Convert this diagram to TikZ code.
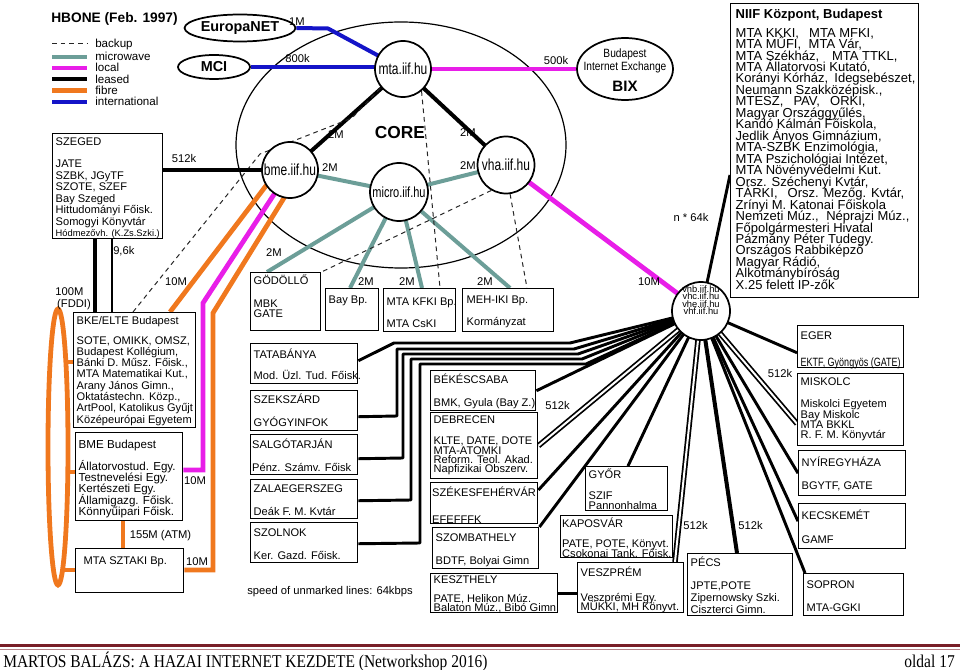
\documentclass[tikz,border=0pt]{standalone}
\usepackage{fontspec}
\setmainfont{Liberation Sans}
\newfontfamily\condf[FakeStretch=0.75]{Liberation Sans}
\newfontfamily\condg[FakeStretch=0.85]{Liberation Sans}
\newfontfamily\footf[FakeStretch=0.86]{Liberation Serif}
\usetikzlibrary{shapes.geometric,calc}
\pgfdeclarelayer{bg}
\pgfsetlayers{bg,main}
\definecolor{mw}{RGB}{108,158,152}
\definecolor{loc}{RGB}{232,30,232}
\definecolor{fib}{RGB}{240,120,30}
\definecolor{intl}{RGB}{20,20,200}
\definecolor{foot}{RGB}{120,30,40}
\newlength\pxu
\setlength\pxu{0.75pt}
\makeatletter
\newcommand\bx[5][3]{\hbox to #2\pxu{\vtop to #3\pxu{\let\\\@normalcr\hsize=600\pxu\parindent=0pt\parskip=0pt\leftskip=#1\pxu\rightskip=0pt plus 1fil\lineskiplimit=-100pt\lineskip=0pt\noindent\rule{0pt}{#4\pxu}\ignorespaces#5\par\vss}\hss}}
\makeatother
\begin{document}
\begin{tikzpicture}[x=0.75pt,y=-0.75pt,
  box/.style={draw,line width=1.1pt,fill=white,inner sep=0pt,anchor=north west,font=\fontsize{8.3}{8.6}\selectfont},
  circ/.style={circle,draw,line width=1.3pt,fill=white,inner sep=0pt,font=\condf\fontsize{12}{12}\selectfont},
  ell/.style={ellipse,draw,line width=1.3pt,fill=white,inner sep=0pt,font=\bfseries\fontsize{10.8}{12}\selectfont},
  lab/.style={inner sep=0pt,anchor=base,font=\fontsize{8.4}{10}\selectfont},
  leased/.style={line width=3pt,black},
  mwline/.style={line width=3pt,mw},
  locline/.style={line width=3.6pt,loc},
  fibline/.style={line width=3.6pt,fib},
  intline/.style={line width=3pt,intl},
  bkline/.style={line width=0.75pt,dash pattern=on 3.5pt off 3pt,black!85},
  vl/.style={line width=2.2pt,black},
  vd/.style={line width=1.3pt,double distance=1.5pt,black}]
\useasboundingbox (0,0) rectangle (960,670);

% title and legend
\node[anchor=west,inner sep=0pt,font=\bfseries\fontsize{10.3}{12}\selectfont] (title) at (51,19) {HBONE (Feb. 1997)};
\node[lab,anchor=base west,font=\fontsize{8.7}{10}\selectfont] (lg1) at (95,48) {backup};
\node[lab,anchor=base west,font=\fontsize{8.7}{10}\selectfont] (lg2) at (95,60.5) {microwave};
\node[lab,anchor=base west,font=\fontsize{8.7}{10}\selectfont] (lg3) at (95,72) {local};
\node[lab,anchor=base west,font=\fontsize{8.7}{10}\selectfont] (lg4) at (95,83.5) {leased};
\node[lab,anchor=base west,font=\fontsize{8.7}{10}\selectfont] (lg5) at (95,94.5) {fibre};
\node[lab,anchor=base west,font=\fontsize{8.7}{10}\selectfont] (lg6) at (95,105.5) {international};

% external ellipses
\node[ell,minimum width=72.75pt,minimum height=20.25pt] (eu) at (240,28) {EuropaNET};
\node[ell,minimum width=54pt,minimum height=18pt] (mci) at (214,67) {MCI};
\node[ell,minimum width=72pt,minimum height=46.5pt] (bix) at (625,69) {};
\node[inner sep=0pt,anchor=base,font=\condg\fontsize{9}{10}\selectfont] (bixa) at (625,57.8) {Budapest};
\node[inner sep=0pt,anchor=base,font=\condg\fontsize{9}{10}\selectfont] (bixb) at (625,71) {Internet Exchange};
\node[inner sep=0pt,anchor=base,font=\bfseries\fontsize{11.3}{12}\selectfont] (bixc) at (625,92) {BIX};

% core routers
\node[circ,minimum size=42pt] (mta) at (403,69) {mta.iif.hu};
\node[circ,minimum size=42pt] (bme) at (290,170) {bme.iif.hu};
\node[circ,minimum size=43.5pt,font=\condf\fontsize{11}{11}\selectfont] (micro) at (399,192) {micro.iif.hu};
\node[circ,minimum size=42.75pt] (vha) at (506,165) {vha.iif.hu};
\node[circ,minimum size=43.5pt] (vh) at (701,311) {};
\node[inner sep=0pt,align=center,font=\fontsize{7}{5.6}\selectfont] (vht) at (701,300) {vhb.iif.hu\\vhc.iif.hu\\vhe.iif.hu\\vhf.iif.hu};
\node[inner sep=0pt,font=\bfseries\fontsize{13}{14}\selectfont] (core) at (400,133) {CORE};

% boxes
\node[box] (szeged) at (52,133) {\bx{110}{105}{12}{SZEGED\\[10.8\pxu]JATE\\SZBK, JGyTF\\SZOTE, SZEF\\Bay Szeged\\Hittudományi Főisk.\\Somogyi Könyvtár\\{\fontsize{7}{8.6}\selectfont Hódmezővh. (K.Zs.Szki.)}}};
\node[box] (bke) at (73,312) {\bx{122}{115}{11.3}{\baselineskip=11.3\pxu\relax BKE/ELTE Budapest\\[8.7\pxu]SOTE, OMIKK, OMSZ,\\Budapest Kollégium,\\Bánki D. Műsz. Főisk.,\\MTA Matematikai Kut.,\\Arany János Gimn.,\\Oktatástechn. Közp.,\\ArtPool, Katolikus Gyűjt\\Középeurópai Egyetem}};
\node[box,font=\fontsize{8.7}{8.4}\selectfont] (bmebox) at (75,432) {\bx{107}{88}{15.3}{\baselineskip=11.2\pxu\relax BME Budapest\\[11.2\pxu]Állatorvostud. Egy.\\Testnevelési Egy.\\Kertészeti Egy.\\Államigazg. Főisk.\\Könnyűipari Főisk.}};
\node[box] (sztaki) at (75,548) {\bx[8]{108}{44}{16}{MTA SZTAKI Bp.}};
\node[box] (godollo) at (250,272) {\bx{70}{58}{12}{\baselineskip=10.6\pxu\relax GÖDÖLLŐ\\[12\pxu]MBK\\GATE}};
\node[box] (baybp) at (325,288) {\bx{53}{42}{14.3}{Bay Bp.}};
\node[box] (kfki) at (383,288) {\bx{72}{43}{16.7}{MTA KFKI Bp.\\[11\pxu]MTA CsKI}};
\node[box] (mehiki) at (462,288) {\bx[4]{91}{43}{14.3}{MEH-IKI Bp.\\[10.9\pxu]Kormányzat}};
\node[box] (tata) at (250,343) {\bx{107}{40}{14.3}{TATABÁNYA\\[10.2\pxu]Mod. Üzl. Tud. Főisk.}};
\node[box] (szekszard) at (250,390) {\bx{107}{40}{12.3}{SZEKSZÁRD\\[11.9\pxu]GYÓGYINFOK}};
\node[box] (salgo) at (250,434) {\bx[1.5]{107}{40}{13.3}{SALGÓTARJÁN\\[11.9\pxu]Pénz. Számv. Főisk}};
\node[box] (zala) at (250,479) {\bx{107}{39}{12.3}{ZALAEGERSZEG\\[11.9\pxu]Deák F. M. Kvtár}};
\node[box] (szolnok) at (250,522) {\bx{107}{40}{13.7}{SZOLNOK\\[11.8\pxu]Ker. Gazd. Főisk.}};
\node[box] (bekes) at (430,370) {\bx{105}{40}{12.3}{BÉKÉSCSABA\\[11.9\pxu]BMK, Gyula (Bay Z.)}};
\node[box] (debrecen) at (430,412) {\bx{107}{66}{10.3}{\baselineskip=9.4\pxu\relax DEBRECEN\\[12.3\pxu]KLTE, DATE, DOTE\\MTA-ATOMKI\\Reform. Teol. Akad.\\Napfizikai Obszerv.}};
\node[box] (szekes) at (430,482) {\bx[1.5]{107}{41}{13.7}{SZÉKESFEHÉRVÁR\\[15.1\pxu]EFEFFFK}};
\node[box] (szomb) at (432,527) {\bx{106}{41}{13.7}{SZOMBATHELY\\[11.8\pxu]BDTF, Bolyai Gimn}};
\node[box] (keszt) at (430,573) {\bx{127}{39}{9.3}{\baselineskip=9.3\pxu\relax KESZTHELY\\[9.8\pxu]PATE, Helikon Múz.\\Balaton Múz., Bibó Gimn.}};
\node[box] (gyor) at (585,466) {\bx{82}{44}{11.3}{\baselineskip=10\pxu\relax GYŐR\\[11.7\pxu]SZIF\\Pannonhalma}};
\node[box] (kapos) at (560,515) {\bx[1.5]{112}{42}{11.7}{\baselineskip=10\pxu\relax KAPOSVÁR\\[10\pxu]PATE, POTE, Könyvt.\\Csokonai Tank. Főisk.}};
\node[box] (veszp) at (577,562) {\bx{106}{50}{13.7}{\baselineskip=9.5\pxu\relax VESZPRÉM\\[15.5\pxu]Veszprémi Egy.\\MÜKKI, MH Könyvt.}};
\node[box] (pecs) at (687,553) {\bx{105}{62}{12.7}{\baselineskip=11.7\pxu\relax PÉCS\\[11.6\pxu]JPTE,POTE\\Zipernowsky Szki.\\Ciszterci Gimn.}};
\node[box] (eger) at (797,325) {\bx{106}{42}{14}{EGER\\[15.2\pxu]{\condf\fontsize{9}{8.6}\selectfont EKTF, Gyöngyös (GATE)}}};
\node[box] (miskolc) at (797,373) {\bx{106}{72}{11.7}{\baselineskip=10.3\pxu\relax MISKOLC\\[12\pxu]Miskolci Egyetem\\Bay Miskolc\\MTA BKKL\\R. F. M. Könyvtár}};
\node[box] (nyir) at (798,450) {\bx{107}{45}{15.7}{NYÍREGYHÁZA\\[11.8\pxu]BGYTF, GATE}};
\node[box] (kecs) at (798,503) {\bx{107}{45}{16}{KECSKEMÉT\\[11.8\pxu]GAMF}};
\node[box] (sopron) at (803,573) {\bx{100}{42}{14.3}{SOPRON\\[11.9\pxu]MTA-GGKI}};
\node[box,font=\fontsize{9.75}{8.6}\selectfont] (niif) at (730,3) {\bx[5]{188}{294}{14.4}{{\bfseries NIIF Központ, Budapest}\\[7.5\pxu]MTA KKKI,\hspace{0.5em} MTA MFKI,\\MTA MŰFI,\hspace{0.3em} MTA Vár,\\MTA Székház,\hspace{0.7em} MTA TTKL,\\MTA Állatorvosi Kutató,\\Korányi Kórház,\hspace{0.2em} Idegsebészet,\\Neumann Szakközépisk.,\\MTESZ,\hspace{0.5em} PAV,\hspace{0.5em} ORKI,\\Magyar Országgyűlés,\\Kandó Kálmán Főiskola,\\Jedlik Ányos Gimnázium,\\MTA-SZBK Enzimológia,\\MTA Pszichológiai Intézet,\\MTA Növényvédelmi Kut.\\Orsz. Széchenyi Kvtár,\\TÁRKI,\hspace{0.5em} Orsz. Mezőg. Kvtár,\\Zrínyi M. Katonai Főiskola\\Nemzeti Múz.,\hspace{0.3em} Néprajzi Múz.,\\Főpolgármesteri Hivatal\\Pázmány Péter Tudegy.\\Országos Rabbiképző\\Magyar Rádió,\\Alkotmánybíróság\\X.25 felett IP-zők}};

% FDDI ring
\node[ellipse,draw=fib,line width=3.6pt,minimum width=15pt,minimum height=207pt,inner sep=0pt] (ring) at (58,447) {};

% labels
\node[lab] (l1m) at (297,25.7) {1M};
\node[lab] (l800) at (297.5,62.3) {800k};
\node[lab] (l500) at (556,64.7) {500k};
\node[lab] (lc1) at (336,139) {2M};
\node[lab] (lc2) at (330,172) {2M};
\node[lab] (lc3) at (468,137) {2M};
\node[lab] (lc4) at (468,170) {2M};
\node[lab] (lc5) at (274,257) {2M};
\node[lab] (lc6) at (366,286) {2M};
\node[lab] (lc7) at (407,286) {2M};
\node[lab] (lc8) at (485,286) {2M};
\node[lab] (lsz) at (184,163) {512k};
\node[lab,anchor=base west] (l96) at (113,255) {9,6k};
\node[lab] (l100) at (69.5,296) {100M};
\node[lab] (lfddi) at (74,307) {(FDDI)};
\node[lab] (l10a) at (176,286) {10M};
\node[lab] (l10b) at (195,484) {10M};
\node[lab] (l10c) at (197,565) {10M};
\node[lab] (l155) at (160.5,538) {155M (ATM)};
\node[lab] (lbek) at (557.5,409) {512k};
\node[lab] (lmis) at (780,377) {512k};
\node[lab] (lves) at (695.5,529) {512k};
\node[lab] (lpec) at (750.5,529) {512k};
\node[lab] (ln64) at (691,222) {n * 64k};
\node[lab] (l10v) at (649,286) {10M};
\node[lab,anchor=base west] (lspeed) at (247,594) {speed of unmarked lines: 64kbps};

% footer
\node[anchor=base west,inner sep=0pt,font=\footf\fontsize{13.5}{14}\selectfont] (foot1) at (3,667) {MARTOS BALÁZS: A HAZAI INTERNET KEZDETE (Networkshop 2016)};
\node[anchor=base east,inner sep=0pt,font=\footf\fontsize{13.5}{14}\selectfont] (foot2) at (955,667) {oldal 17};

\begin{pgfonlayer}{bg}
\draw[line width=0.9pt] (401,145) ellipse [x radius=165, y radius=123];
% legend lines
\draw[bkline] (52,44) -- (87,44);
\draw[mwline] (52,57) -- (87,57);
\draw[locline] (52,68) -- (87,68);
\draw[leased] (52,79.5) -- (87,79.5);
\draw[fibline] (52,90.5) -- (87,90.5);
\draw[intline] (52,102) -- (87,102);
% international
\coordinate (eubend) at (328,28.5);
\draw[intline,line join=round] (eu.east) -- (eubend) -- (mta.center);
\draw[intline] (mci.east) -- (mci.east -| mta.center);
% local to BIX
\draw[locline] (mta.center) -- (bix.west);
% core
\draw[leased] (mta.center) -- (bme.center);
\draw[leased] (mta.center) -- (vha.center);
\draw[mwline] (bme.center) -- (micro.center);
\draw[mwline] (micro.center) -- (vha.center);
\draw[mwline] (micro.center) -- ($(godollo.north west)+(17,0)$);
\draw[mwline] (micro.center) -- ($(baybp.north west)+(25,0)$);
\draw[mwline] (micro.center) -- ($(kfki.north west)+(39,0)$);
\draw[mwline] (micro.center) -- ($(mehiki.north west)+(48,0)$);
% backup
\coordinate (bkA) at (260,154);
\coordinate (bkB) at (352,118);
\draw[bkline] ($(bke.north west)+(60,0)$) -- (bkA) -- (bkB) -- (mta.-140);
\draw[bkline] (mta.-50) -- ($(kfki.north west)+(57,0)$);
\draw[bkline] (vha.-120) -- (godollo.north east);
\draw[bkline] (vha.-82) -- ($(mehiki.north west)+(65,0)$);
% Szeged
\draw[leased] (szeged.east |- bme.west) -- (bme.center);
\draw[line width=3.2pt] ($(szeged.south west)+(43,0)$) -- ($(bke.north west)+(22,0)$);
\draw[line width=1.7pt] ($(szeged.south west)+(60,0)$) -- ($(bke.north west)+(39,0)$);
% ring
\draw[fibline] ($(bke.north west)+(0,50)$) -- ($(ring.center)+(7.9,-85)$);
\draw[fibline] ($(bmebox.north west)+(0,40)$) -- ($(ring.center)+(9.8,25)$);
\draw[fibline] ($(sztaki.north west)+(0,22)$) -- ($(ring.center)+(4.5,123)$);
\draw[fibline] ($(bmebox.south west)+(48,0)$) -- ($(sztaki.north west)+(48,0)$);
% links to bme
\coordinate (mgA) at (203,470);
\coordinate (mgB) at (203,303);
\draw[locline,line join=miter] ($(bmebox.north east)+(0,38)$) -- (mgA) -- (mgB) -- (bme.center);
\coordinate (ogA) at (213,570);
\coordinate (ogB) at (213,313);
\draw[fibline,line join=miter] ($(sztaki.north east)+(0,22)$) -- (ogA) -- (ogB) -- ($(bme.center)+(10,2)$);
\draw[fibline] ($(bke.north west)+(97,0)$) -- ($(bme.center)+(-12,0)$);
% vh
\draw[vl] ($(niif.north west)+(0,172)$) -- (vh.center);
\draw[locline] (vha.center) -- (vh.center);
\draw[vl] ($(eger.west)+(0,6)$) -- (vh.center);
\draw[vd] ($(miskolc.west)+(0,14)$) -- (vh.center);
\draw[vl] (nyir.west) -- (vh.center);
\draw[vl] ($(kecs.west)+(0,-5)$) -- (vh.center);
\draw[vl] ($(sopron.north west)+(2,0)$) -- (vh.center);
\draw[vl,line width=3pt] ($(pecs.north west)+(50,0)$) -- (vh.center);
\draw[vd] ($(veszp.north west)+(98,0)$) -- (vh.center);
\draw[vl] ($(gyor.north west)+(43,0)$) -- (vh.center);
\draw[vl] (szomb.north east) -- (vh.center);
\draw[vl] ($(szekes.north east)+(0,8)$) -- (vh.center);
\draw[vd] (debrecen.east) -- (vh.center);
\draw[vl] (bekes.east) -- (vh.center);
\draw[vl] (keszt.east) -- (keszt.east -| veszp.west);
\coordinate (ta1) at (394,343); \coordinate (ta2) at (570,343);
\coordinate (sk1) at (397,416); \coordinate (sk2) at (397,349); \coordinate (sk3) at (574,349);
\coordinate (sg1) at (403,458); \coordinate (sg2) at (403,354); \coordinate (sg3) at (578,354);
\coordinate (zl1) at (411,500); \coordinate (zl2) at (411,359); \coordinate (zl3) at (582,359);
\coordinate (so1) at (420,543); \coordinate (so2) at (420,364); \coordinate (so3) at (586,364);
\draw[vl,line join=round] ($(tata.east)+(0,-3)$) -- (ta1) -- (ta2) -- (vh.center);
\draw[vl,line join=round] ($(szekszard.east)+(0,6)$) -- (sk1) -- (sk2) -- (sk3) -- (vh.center);
\draw[vl,line join=round] ($(salgo.east)+(0,4)$) -- (sg1) -- (sg2) -- (sg3) -- (vh.center);
\draw[vl,line join=round] ($(zala.east)+(0,1.5)$) -- (zl1) -- (zl2) -- (zl3) -- (vh.center);
\draw[vl,line join=round] ($(szolnok.east)+(0,1)$) -- (so1) -- (so2) -- (so3) -- (vh.center);
% footer rules
\draw[foot,line width=2.6pt] (0,645.5) -- (960,645.5);
\draw[foot!55,line width=0.7pt] (0,649.5) -- (960,649.5);
\end{pgfonlayer}
\end{tikzpicture}
\end{document}
